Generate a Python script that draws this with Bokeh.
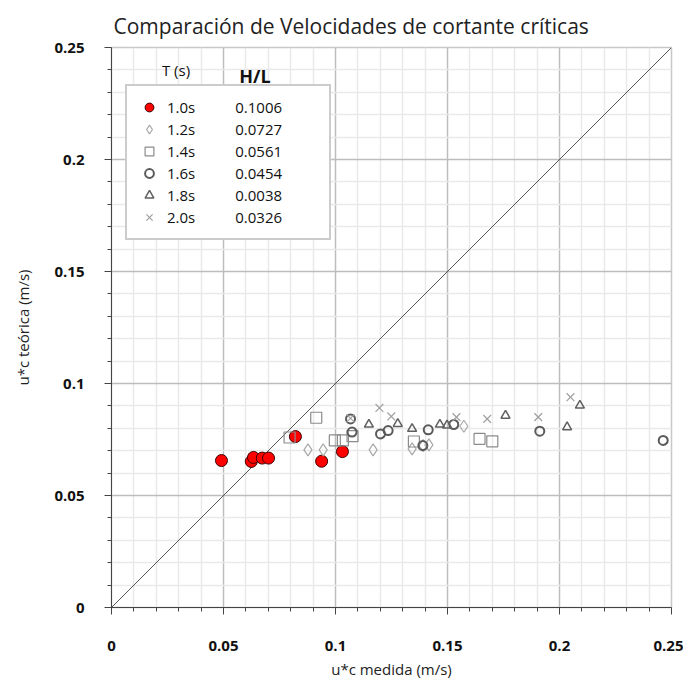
from bokeh.plotting import figure
from bokeh.models import (FixedTicker, CustomJSTickFormatter, Legend, LegendItem, Label)
from bokeh.embed import file_html
from bokeh.resources import INLINE

title_text = "Comparación de Velocidades de cortante críticas"
x_label = "u*c medida (m/s)"
y_label = "u*c teórica (m/s)"

major_ticks = [0, 0.05, 0.1, 0.15, 0.2, 0.25]
minor_ticks = [0.01, 0.02, 0.03, 0.04, 0.06, 0.07, 0.08, 0.09, 0.11, 0.12, 0.13, 0.14,
               0.16, 0.17, 0.18, 0.19, 0.21, 0.22, 0.23, 0.24]

periods = ["1.0s", "1.2s", "1.4s", "1.6s", "1.8s", "2.0s"]
hl_values = ["0.1006", "0.0727", "0.0561", "0.0454", "0.0038", "0.0326"]

# T = 1.0 s
x10 = [0.0491, 0.0624, 0.0634, 0.0673, 0.0701, 0.0821, 0.0938, 0.1031]
y10 = [0.0656, 0.0652, 0.0670, 0.0667, 0.0667, 0.0763, 0.0653, 0.0696]
# T = 1.2 s
x12 = [0.0877, 0.0945, 0.1168, 0.1342, 0.1391, 0.1417, 0.1573]
y12 = [0.0704, 0.0704, 0.0704, 0.0708, 0.0723, 0.0726, 0.0809]
# T = 1.4 s
x14 = [0.0795, 0.0914, 0.0997, 0.1033, 0.1076, 0.1350, 0.1643, 0.1700]
y14 = [0.0759, 0.0847, 0.0746, 0.0746, 0.0765, 0.0741, 0.0753, 0.0742]
# T = 1.6 s
x16 = [0.1067, 0.1074, 0.1201, 0.1235, 0.1390, 0.1414, 0.1528, 0.1912, 0.2463]
y16 = [0.0842, 0.0783, 0.0775, 0.0790, 0.0723, 0.0793, 0.0817, 0.0787, 0.0746]
# T = 1.8 s
x18 = [0.1149, 0.1278, 0.1342, 0.1466, 0.1498, 0.1759, 0.2034, 0.2091]
y18 = [0.0817, 0.0820, 0.0798, 0.0817, 0.0813, 0.0857, 0.0805, 0.0902]
# T = 2.0 s
x20 = [0.1067, 0.1196, 0.1249, 0.1540, 0.1677, 0.1905, 0.2049]
y20 = [0.0845, 0.0891, 0.0853, 0.0850, 0.0842, 0.0850, 0.0939]

ref_x = [0, 0.25]
ref_y = [0, 0.25]

FONT = "Open Sans"

p = figure(output_backend="svg", toolbar_location=None,
           frame_width=560, frame_height=560,
           x_range=(0, 0.25), y_range=(0, 0.25),
           min_border_left=111, min_border_top=47, min_border_right=12, min_border_bottom=73,
           title=title_text)
p.title.align = "left"
p.title.offset = 2
p.title.standoff = 16
p.title.text_font = FONT
p.title.text_font_size = "21px"
p.title.text_font_style = "normal"
p.title.text_color = "#222222"
p.outline_line_color = "#c8c8c8"
p.outline_line_width = 1.5

ticker = FixedTicker(ticks=major_ticks, minor_ticks=minor_ticks)
fmt = CustomJSTickFormatter(code="return tick.toFixed(2).replace(/0+$/,'').replace(/\\.$/,'');")
for ax in (p.xaxis[0], p.yaxis[0]):
    ax.ticker = ticker
    ax.formatter = fmt
    ax.major_label_text_font = FONT
    ax.major_label_text_font_style = "bold"
    ax.major_label_text_font_size = "15px"
    ax.major_label_text_color = "#111111"
    ax.axis_label_text_font = FONT
    ax.axis_label_text_font_style = "normal"
    ax.axis_label_text_font_size = "15px"
    ax.axis_label_text_color = "#222222"
    ax.axis_line_color = "#444444"
    ax.major_tick_line_color = "#444444"
    ax.minor_tick_line_color = "#444444"
    ax.major_tick_in = 0
    ax.major_tick_out = 7
    ax.minor_tick_in = 0
    ax.minor_tick_out = 4
p.xaxis.major_label_standoff = 26
p.yaxis.major_label_standoff = 20
p.xaxis.axis_label_standoff = 5
p.yaxis.axis_label_standoff = 18
p.xaxis.axis_label = x_label
p.yaxis.axis_label = y_label

for g in (p.xgrid[0], p.ygrid[0]):
    g.ticker = ticker
    g.grid_line_color = "#bdbdbd"
    g.grid_line_width = 1.5
    g.minor_grid_line_color = "#e9e9e9"
    g.minor_grid_line_width = 1.5

p.line(ref_x, ref_y, line_color="#555555", line_width=1)

r10 = p.scatter(x10, y10, marker="circle", size=12, fill_color="red", line_color="#3a0000", line_width=1)
r12 = p.scatter(x12, y12, marker="diamond", size=12, fill_color="white", fill_alpha=0.0,
                line_color="#a8a8a8", line_width=1.2)
r14 = p.scatter(x14, y14, marker="square", size=11, fill_color="white", fill_alpha=0.0,
                line_color="#8c8c8c", line_width=1.2)
r16 = p.scatter(x16, y16, marker="circle", size=9, fill_color="white", fill_alpha=0.0,
                line_color="#5a5a5a", line_width=2)
r18 = p.scatter(x18, y18, marker="triangle", size=9, fill_color="white", fill_alpha=0.0,
                line_color="#606060", line_width=1.5)
r20 = p.scatter(x20, y20, marker="x", size=11, line_color="#a0a0a0", line_width=1.2)

renderers = [r10, r12, r14, r16, r18, r20]
items = [LegendItem(label=f"{t}\u2003\u2003\u2002\u2009{h}", renderers=[r])
         for t, h, r in zip(periods, hl_values, renderers)]
legend = Legend(items=items, location=(14, 367), orientation="vertical",
                label_text_font=FONT, label_text_font_size="15px", label_text_color="#111111",
                glyph_width=24, glyph_height=22, label_height=22, spacing=0,
                padding=10, margin=0, label_standoff=6, label_width=152,
                border_line_color="#9a9a9a", border_line_width=2,
                background_fill_color="white", background_fill_alpha=1.0)
p.add_layout(legend, "center")

p.add_layout(Label(x=0.0225, y=0.2400, text="T (s)", text_font=FONT, text_font_size="15px",
                   text_baseline="middle", text_color="#111111"))
p.add_layout(Label(x=0.0570, y=0.2375, text="H/L", text_font=FONT, text_font_size="18px",
                   text_font_style="bold", text_baseline="middle", text_color="#111111"))

open("out.html", "w").write(file_html(p, INLINE))
